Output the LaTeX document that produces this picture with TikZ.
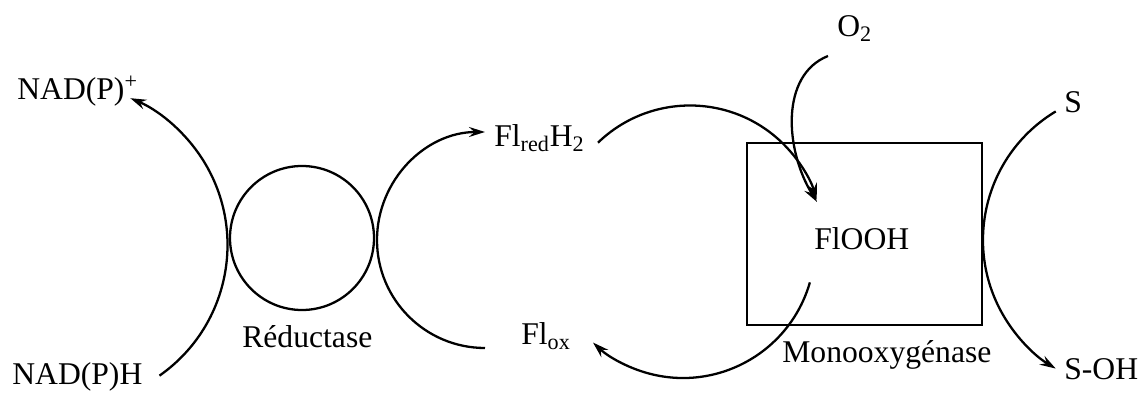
\documentclass[tikz,border=0pt]{standalone}
\usepackage{fontspec}
\setmainfont{Liberation Serif}
\usetikzlibrary{arrows.meta}
\tikzset{>={Stealth[length=3.2mm,width=2mm,inset=1.1mm]}}

\begin{document}
\begin{tikzpicture}[font=\fontsize{18}{21}\selectfont,
  lbl/.style={inner sep=0pt, anchor=base west},
  rxn/.style={->, line width=1.3pt},
  ring/.style={draw, line width=1.3pt}]
\useasboundingbox (0,0) rectangle (22.82,7.88);
% species
\node[lbl] (nadp) at (0.34,5.88) {NAD(P)\textsuperscript{+}};
\node[lbl] (nadh) at (0.24,0.18) {NAD(P)H};
\node[lbl] (red) at (4.84,0.92) {Réductase};
\node[lbl] (flred) at (9.88,4.94) {Fl\textsubscript{red}H\textsubscript{2}};
\node[lbl] (flox) at (10.42,0.98) {Fl\textsubscript{ox}};
\node[lbl] (otwo) at (16.74,7.14) {O\textsubscript{2}};
\node[lbl] (flooh) at (16.28,2.88) {FlOOH};
\node[lbl] (mono) at (15.64,0.63) {Monooxygénase};
\node[lbl] (subs) at (21.28,5.62) {S};
\node[lbl] (prod) at (21.28,0.28) {S-OH};
% enzymes
\node[ring, circle, minimum size=2.88cm, inner sep=0pt] (redc) at (6.04,3.12) {};
\node[ring, rectangle, minimum width=4.70cm, minimum height=3.64cm, inner sep=0pt] (monob) at (17.29,3.20) {};
% arc centres
\coordinate (cnad) at (1.36,2.98);
\coordinate (cfl) at (9.70,3.08);
\coordinate (ctop) at (13.80,3.12);
\coordinate (cbot) at (13.66,2.96);
\coordinate (cs) at (22.66,3.08);
\coordinate (otwo-e) at (16.56,6.76);
\coordinate (tip) at (16.34,3.84);
\draw[rxn] ([shift={(-55:3.19)}]cnad) arc[start angle=-55, end angle=67, radius=3.19cm];
\draw[rxn] ([shift={(270:2.16)}]cfl) arc[start angle=270, end angle=90, radius=2.16cm];
\draw[rxn] ([shift={(134:2.65)}]ctop) arc[start angle=134, end angle=17, radius=2.65cm];
\draw[rxn] ([shift={(-16:2.64)}]cbot) arc[start angle=-16, end angle=-133, radius=2.64cm];
\draw[rxn] (otwo-e) .. controls (15.60,6.38) and (15.70,4.88) .. (tip);
\draw[rxn] ([shift={(121:3.0)}]cs) arc[start angle=121, end angle=239, radius=3.0cm];
\end{tikzpicture}
\end{document}
